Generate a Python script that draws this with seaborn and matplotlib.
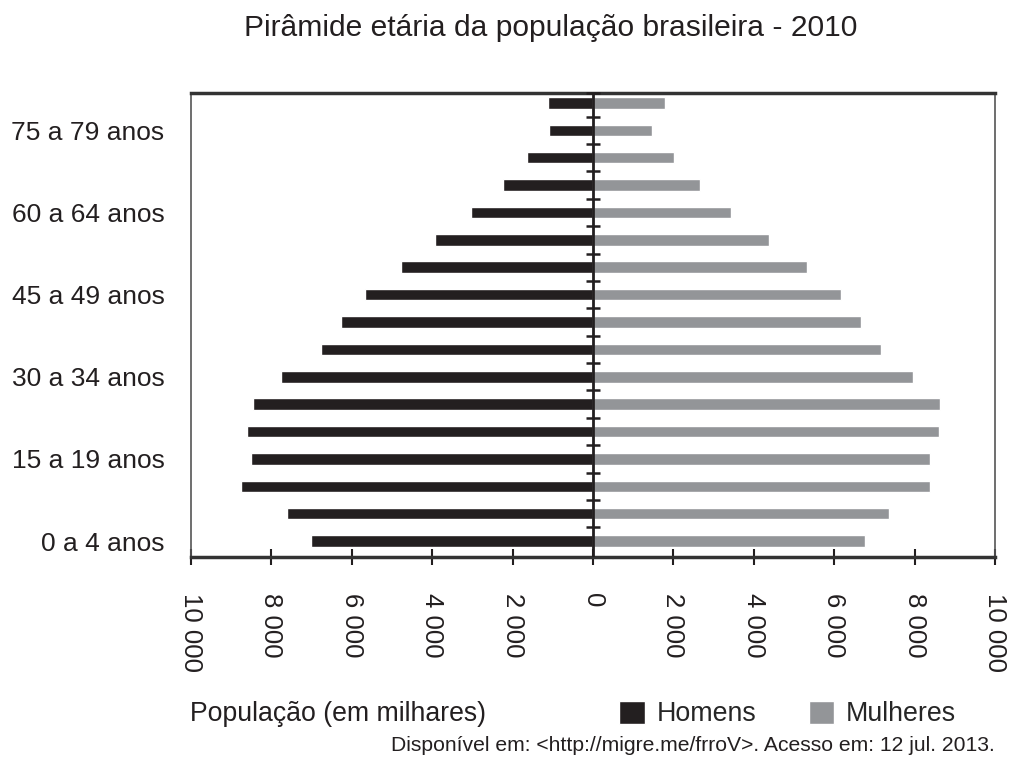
import seaborn as sns
import matplotlib.pyplot as plt
import pandas as pd
import numpy as np

# Age groups (bottom -> top) and population in thousands
idades = ["0 a 4 anos", "5 a 9 anos", "10 a 14 anos", "15 a 19 anos", "20 a 24 anos",
          "25 a 29 anos", "30 a 34 anos", "35 a 39 anos", "40 a 44 anos", "45 a 49 anos",
          "50 a 54 anos", "55 a 59 anos", "60 a 64 anos", "65 a 69 anos", "70 a 74 anos",
          "75 a 79 anos", "80 anos ou mais"]
homens = [7020, 7620, 8760, 8510, 8600, 8460, 7760, 6770, 6260, 5680,
          4770, 3930, 3040, 2240, 1650, 1100, 1120]
mulheres = [6770, 7360, 8390, 8390, 8600, 8640, 7950, 7160, 6660, 6160,
            5320, 4380, 3440, 2650, 2010, 1470, 1800]
rotulos = ["0 a 4 anos", "15 a 19 anos", "30 a 34 anos", "45 a 49 anos",
           "60 a 64 anos", "75 a 79 anos"]
xticks = [-10000, -8000, -6000, -4000, -2000, 0, 2000, 4000, 6000, 8000, 10000]

df = pd.DataFrame({
    "idade": idades * 2,
    "pop": [-v for v in homens] + mulheres,
    "sexo": ["Homens"] * len(idades) + ["Mulheres"] * len(idades),
})
ordem = idades[::-1]  # top to bottom

sns.set_theme(style="white")
plt.rcParams["font.family"] = ["Liberation Sans", "DejaVu Sans"]

fig = plt.figure(figsize=(10.09, 7.58), dpi=100)
ax = fig.add_axes([0.1893, 0.2652, 0.7968, 0.6121])

sns.barplot(data=df, x="pop", y="idade", hue="sexo", order=ordem, dodge=False,
            palette={"Homens": "#231f20", "Mulheres": "#939598"},
            width=0.42, orient="h", ax=ax, saturation=1)

ax.set_xlim(-10000, 10000)
ax.set_ylim(16.58, -0.36)

# center line with small cross marks between groups
ax.axvline(0, color="#231f20", lw=2, zorder=4)
ax.scatter(np.zeros(len(idades) - 1), np.arange(len(idades) - 1) + 0.5,
           marker="_", s=110, color="#231f20", linewidths=1.8, zorder=5)
ax.scatter([0], [-0.36], marker="_", s=110, color="#231f20",
           linewidths=1.8, zorder=5, clip_on=False)

# y labels every third group
ax.set_yticks([ordem.index(r) for r in rotulos])
ax.set_yticklabels(rotulos, fontsize=19, color="#231f20")
ax.tick_params(axis="y", length=0, pad=19)

ax.set_xticks(xticks)
ax.set_xticklabels([f"{abs(v):,}".replace(",", " ") for v in xticks],
                   rotation=-90, fontsize=18.5, color="#231f20", va="top")
ax.tick_params(axis="x", direction="inout", length=12, width=1.5,
               color="#231f20", pad=20, bottom=True)

ax.set_xlabel("")
ax.set_ylabel("")

for s in ["top", "bottom"]:
    ax.spines[s].set_linewidth(2.5)
    ax.spines[s].set_color("#333333")
for s in ["left", "right"]:
    ax.spines[s].set_linewidth(1.2)
    ax.spines[s].set_color("#555555")

handles, labels = ax.get_legend_handles_labels()
ax.get_legend().remove()
fig.legend(handles, labels, loc="center left", bbox_to_anchor=(0.603, 0.058),
           ncol=2, frameon=False, fontsize=19.3, handlelength=0.95, handleheight=0.95,
           handletextpad=0.45, columnspacing=1.95, borderaxespad=0)

fig.suptitle("Pirâmide etária da população brasileira - 2010", fontsize=21.6,
             x=0.546, y=0.963, va="center", color="#231f20")
fig.text(0.188, 0.058, "População (em milhares)", fontsize=19.2, va="center",
         color="#231f20")
fig.text(0.986, 0.016, "Disponível em: <http://migre.me/frroV>. Acesso em: 12 jul. 2013.",
         fontsize=15.2, ha="right", va="center", color="#231f20")

fig.savefig("out.png", dpi=100)
plt.close(fig)
